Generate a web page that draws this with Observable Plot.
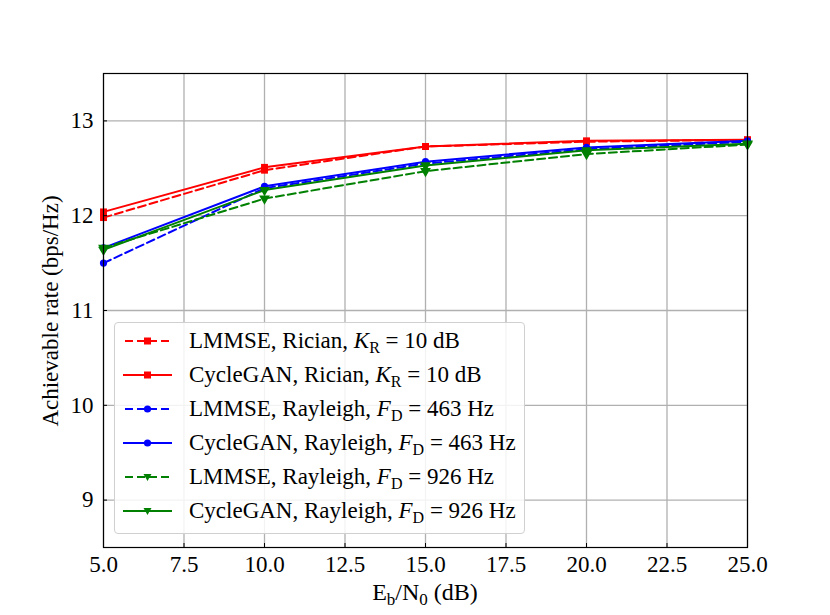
<!DOCTYPE html>
<html>
<head>
<meta charset="utf-8">
<script src="https://cdn.jsdelivr.net/npm/d3@7"></script>
<script src="https://cdn.jsdelivr.net/npm/@observablehq/plot@0.6"></script>
<style>
  body { margin: 0; background: #fff; }
  #wrap { position: relative; width: 830px; height: 615px; font-family: "Liberation Serif", "DejaVu Serif", serif; }
  #wrap svg text { font-family: "Liberation Serif", serif; }
  #legend { position: absolute; left: 114px; top: 322px; width: 411px; height: 212px; box-sizing: border-box;
    border: 1px solid #d0d0d0; border-radius: 4px; background: rgba(255,255,255,0.85); }
  .row { position: absolute; left: 0; height: 34px; display: flex; align-items: center; font-size: 23px; color: #000; white-space: nowrap; }
  .row svg { margin-left: 8px; margin-right: 17px; }
  sub { font-size: 16px; vertical-align: -5px; line-height: 0; }
  #xlabel { position: absolute; left: 0; width: 850px; text-align: center; top: 579px; font-size: 24px; }
  #xlabel sub { font-size: 17px; }
  #ylabel { position: absolute; left: 51px; top: 311px; font-size: 23px; transform: translate(-50%,-50%) rotate(-90deg); white-space: nowrap; }
</style>
</head>
<body>
<div id="wrap"></div>
<script>
// Data
const snr = [5, 10, 15, 20, 25];
const lmmseRician = [11.98, 12.48, 12.73, 12.78, 12.80];
const cycleganRician = [12.04, 12.51, 12.73, 12.79, 12.80];
const lmmseRay463 = [11.50, 12.29, 12.55, 12.70, 12.78];
const cycleganRay463 = [11.66, 12.31, 12.57, 12.72, 12.79];
const lmmseRay926 = [11.66, 12.18, 12.47, 12.65, 12.75];
const cycleganRay926 = [11.64, 12.27, 12.53, 12.69, 12.76];
const xTicks = [5, 7.5, 10, 12.5, 15, 17.5, 20, 22.5, 25];
const yTicks = [9, 10, 11, 12, 13];

const seriesList = [
  {key: "LMMSE, Rician", values: lmmseRician, color: "#ff0000", dash: "8,4", symbol: "square", rot: 0, r: 3.9,
   html: 'LMMSE, Rician, <i>K</i><sub>R</sub> = 10 dB'},
  {key: "CycleGAN, Rician", values: cycleganRician, color: "#ff0000", dash: null, symbol: "square", rot: 0, r: 3.9,
   html: 'CycleGAN, Rician, <i>K</i><sub>R</sub> = 10 dB'},
  {key: "LMMSE, Rayleigh 463", values: lmmseRay463, color: "#0000ff", dash: "8,4", symbol: "circle", rot: 0, r: 3.6,
   html: 'LMMSE, Rayleigh, <i>F</i><sub>D</sub> = 463 Hz'},
  {key: "CycleGAN, Rayleigh 463", values: cycleganRay463, color: "#0000ff", dash: null, symbol: "circle", rot: 0, r: 3.6,
   html: 'CycleGAN, Rayleigh, <i>F</i><sub>D</sub> = 463 Hz'},
  {key: "LMMSE, Rayleigh 926", values: lmmseRay926, color: "#008000", dash: "8,4", symbol: "triangle", rot: 180, r: 4,
   html: 'LMMSE, Rayleigh, <i>F</i><sub>D</sub> = 926 Hz'},
  {key: "CycleGAN, Rayleigh 926", values: cycleganRay926, color: "#008000", dash: null, symbol: "triangle", rot: 180, r: 4,
   html: 'CycleGAN, Rayleigh, <i>F</i><sub>D</sub> = 926 Hz'}
];

const marks = [
  Plot.ruleX(xTicks, {stroke: "#b0b0b0", strokeWidth: 1.3}),
  Plot.ruleY(yTicks, {stroke: "#b0b0b0", strokeWidth: 1.3})
];
for (const s of seriesList) {
  const rows = snr.map((x, i) => ({x, y: s.values[i]}));
  marks.push(Plot.line(rows, {x: "x", y: "y", stroke: s.color, strokeWidth: 2, strokeDasharray: s.dash || undefined}));
  marks.push(Plot.dot(rows, {x: "x", y: "y", fill: s.color, stroke: "none", symbol: s.symbol, r: s.r, rotate: s.rot}));
}
marks.push(Plot.frame({stroke: "#000", strokeWidth: 1.2}));
marks.push(Plot.axisX({ticks: xTicks, tickFormat: d3.format(".1f"), tickSize: -4, tickPadding: 12, label: null,
  fontSize: 23, fontFamily: "Liberation Serif", fill: "#000"}));
marks.push(Plot.axisY({ticks: yTicks, tickFormat: d3.format("d"), tickSize: -4, tickPadding: 14, label: null,
  fontSize: 23, fontFamily: "Liberation Serif", fill: "#000"}));

const chart = Plot.plot({
  width: 830, height: 615,
  marginLeft: 103, marginRight: 83, marginTop: 73, marginBottom: 68,
  style: {fontFamily: "'Liberation Serif', serif", fontSize: "23px", color: "#000", background: "#fff"},
  x: {domain: [5, 25]},
  y: {domain: [8.5, 13.5]},
  marks
});
const wrap = document.getElementById("wrap");
wrap.appendChild(chart);

// Legend overlay
const legend = document.createElement("div");
legend.id = "legend";
seriesList.forEach((s, i) => {
  const row = document.createElement("div");
  row.className = "row";
  row.style.top = (1 + 34 * i) + "px";
  const sym = s.symbol === "square"
    ? `<rect x="21" y="13.5" width="7" height="7" fill="${s.color}"/>`
    : s.symbol === "circle"
    ? `<circle cx="24.5" cy="17" r="3.6" fill="${s.color}"/>`
    : `<path d="M20.5,14 L28.5,14 L24.5,21 Z" fill="${s.color}"/>`;
  row.innerHTML = `<svg width="49" height="34"><line x1="0" y1="17" x2="49" y2="17" stroke="${s.color}" stroke-width="2" ${s.dash ? `stroke-dasharray="${s.dash}" stroke-dashoffset="-2"` : ""}/>${sym}</svg><span>${s.html}</span>`;
  legend.appendChild(row);
});
wrap.appendChild(legend);

const xl = document.createElement("div");
xl.id = "xlabel";
xl.innerHTML = 'E<sub>b</sub>/N<sub>0</sub> (dB)';
wrap.appendChild(xl);
const yl = document.createElement("div");
yl.id = "ylabel";
yl.textContent = "Achievable rate (bps/Hz)";
wrap.appendChild(yl);
</script>
</body>
</html>
